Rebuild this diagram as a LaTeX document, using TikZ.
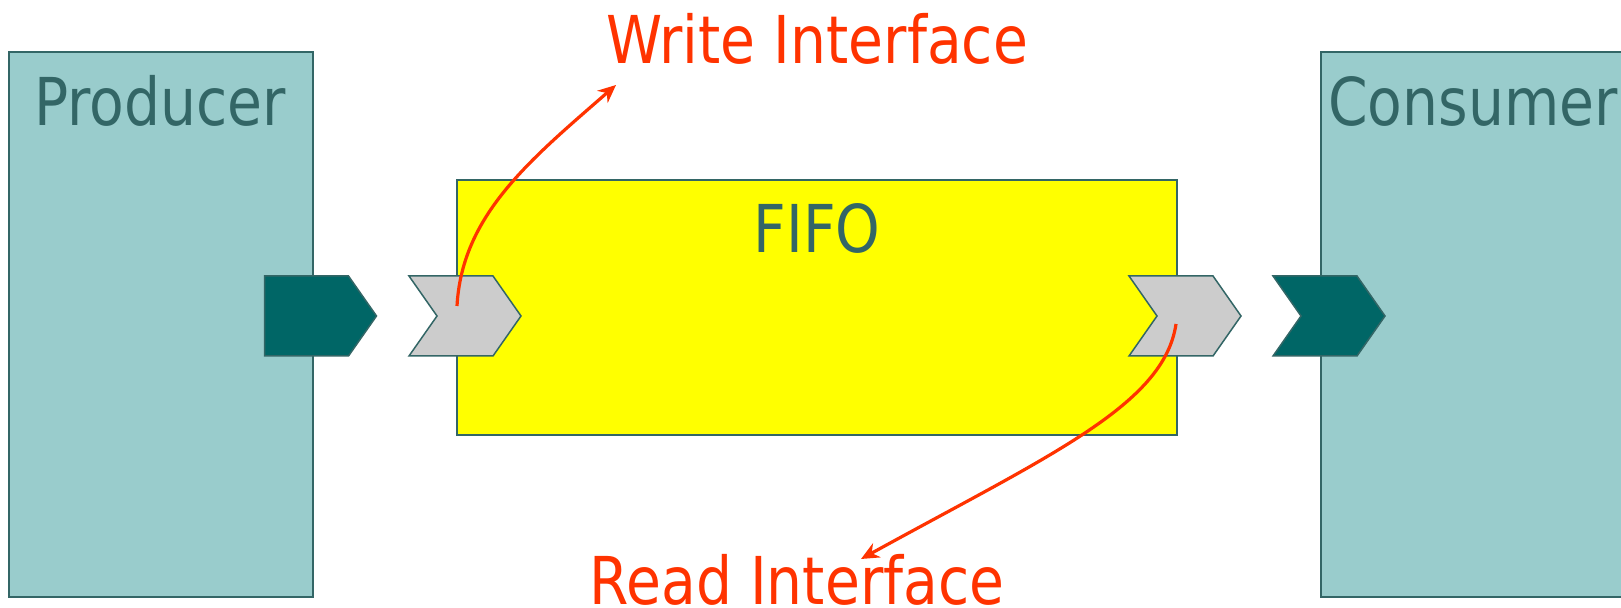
\documentclass[tikz,border=0pt]{standalone}
\usepackage{fontspec}
\newfontfamily\diagfont[FakeStretch=0.86]{DejaVu Sans}
\usetikzlibrary{positioning, arrows.meta, shapes.symbols}
\definecolor{boxfill}{HTML}{99CCCC}
\definecolor{boxline}{HTML}{336666}
\definecolor{portdark}{HTML}{006666}
\definecolor{portgray}{HTML}{CCCCCC}
\definecolor{fifofill}{HTML}{FFFF00}
\definecolor{callout}{HTML}{FF3300}

\begin{document}
\begin{tikzpicture}[
		x=0.5pt, y=-0.5pt,
		block/.style={draw=boxline, line width=0.75pt, rectangle, inner sep=0pt},
		port/.style={draw=boxline, line width=0.75pt, signal, signal to=east, signal pointer angle=110, inner sep=0pt, minimum height=40pt, minimum width=56pt},
		inport/.style={port, signal from=west},
		title/.style={font=\diagfont\fontsize{33}{40}\selectfont, text=boxline, anchor=base},
		note/.style={font=\diagfont\fontsize{33}{40}\selectfont, text=callout, anchor=base},
		arrow/.style={-{Stealth[length=9pt, width=8pt]}, draw=callout, line width=1.6pt}
		]
		\path[use as bounding box, clip] (0,0) rectangle (1621,608);
		
		% Define Nodes
		\node[block, fill=boxfill, minimum width=152pt, minimum height=272.5pt] (producer) at (161,324.5) {};
		\node[block, fill=boxfill, minimum width=160pt, minimum height=272.5pt] (consumer) at (1481,324.5) {};
		\node[block, fill=fifofill, minimum width=360pt, minimum height=127.5pt] (fifo) at (817,307.5) {};
		
		\node[title] at (160,126) {Producer};
		\node[title] at (1473,126) {Consumer};
		\node[title] at (817,253) {FIFO};
		
		% Ports
		\node[port, fill=portdark] (pout) at (306.5,316) {};
		\node[inport, fill=portgray] (wport) at (465,316) {};
		\node[inport, fill=portgray] (rport) at (1185,316) {};
		\node[inport, fill=portdark] (cin) at (1329,316) {};
		
		% Annotations
		\node[note] (wlabel) at (817,64) {Write Interface};
		\node[note] (rlabel) at (797,604) {Read Interface};
		\coordinate (wstart) at (457,306);
		\coordinate (wtip) at (616,85);
		\coordinate (rstart) at (1176,324);
		\coordinate (rtip) at (861,559);
		
		\draw[arrow] (wstart) .. controls (462,215) and (530,160) .. (wtip);
		\draw[arrow] (rstart) .. controls (1164,405) and (1050,455) .. (rtip);
		
	\end{tikzpicture}
\end{document}
